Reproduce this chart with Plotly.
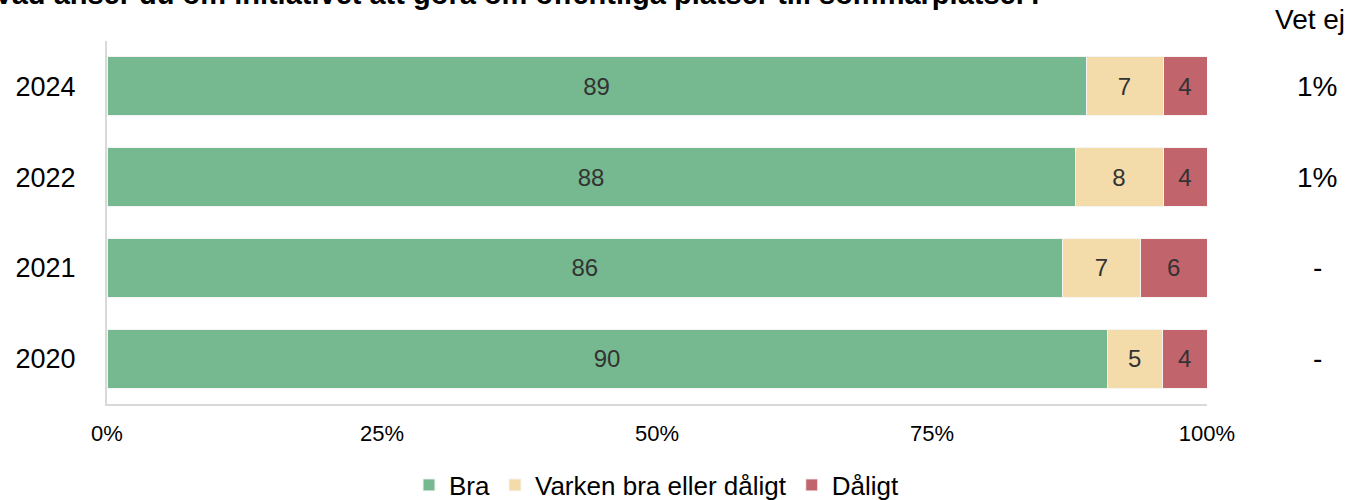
import plotly.graph_objects as go

# survey results, share of respondents
years = ['2024', '2022', '2021', '2020']
bra = [89, 88, 86, 90]
varken = [7, 8, 7, 5]
daligt = [4, 4, 6, 4]
vet_ej = ['1%', '1%', '-', '-']

series = [('Bra', bra, '#76B990'),
          ('Varken bra eller dåligt', varken, '#F3DCAA'),
          ('Dåligt', daligt, '#C2646C')]

FONT = 'Liberation Sans, Arial, sans-serif'

fig = go.Figure()

for name, vals, color in series:
    fig.add_trace(go.Bar(y=years,
                         x=vals,
                         name=name,
                         orientation='h',
                         text=vals,
                         textposition='inside',
                         insidetextanchor='middle',
                         textfont=dict(size=24, color='#333333', family=FONT),
                         marker=dict(color=color, line=dict(color='#F4F4F4', width=1)),
                         hoverinfo='skip'
                         )
                  )

# "Vet ej" column to the right of the bars
# (category axis: annotations use the category index)
fig.add_annotation(text='Vet ej', xref='paper', yref='paper',
                   x=1.0935, y=1.058, xanchor='center', yanchor='middle',
                   showarrow=False,
                   font=dict(size=28, color='#000000', family=FONT))
for i, v in enumerate(vet_ej):
    fig.add_annotation(text=v, xref='paper', yref='y',
                       x=1.1, y=i, xanchor='center', yanchor='middle',
                       showarrow=False,
                       font=dict(size=28, color='#000000', family=FONT))

# title, cut at the top edge as in the source image
fig.add_annotation(text='<b>Vad anser du om initiativet att göra om offentliga platser till sommarplatser?</b>',
                   xref='paper', yref='paper', x=-0.1045, y=1.129,
                   xanchor='left', yanchor='middle', showarrow=False,
                   font=dict(size=29, color='#000000', family=FONT))

fig.update_layout(barmode='stack',
                  barnorm='percent',
                  bargap=0.35,
                  width=1348, height=500,
                  margin=dict(l=107, r=141, t=41, b=96, autoexpand=False),
                  plot_bgcolor='white',
                  paper_bgcolor='white',
                  font=dict(family=FONT, color='#000000'),
                  xaxis=dict(range=[0, 100],
                             tickvals=[0, 25, 50, 75, 100],
                             ticktext=['0%', '25%', '50%', '75%', '100%'],
                             tickfont=dict(size=22),
                             showgrid=False, zeroline=False,
                             showline=True, linecolor='#D9D9D9', linewidth=2,
                             ticklabelstandoff=9, automargin=False),
                  yaxis=dict(type='category',
                             range=[3.5, -0.5],
                             tickfont=dict(size=27),
                             showgrid=False, zeroline=False,
                             showline=True, linecolor='#D9D9D9', linewidth=2,
                             ticklabelstandoff=24, automargin=False),
                  legend=dict(orientation='h', x=0.5, xanchor='center',
                              y=0.077, yref='container', yanchor='top',
                              font=dict(size=26),
                              traceorder='normal'),
                  showlegend=True
                  )

fig.write_html("out.html", post_script="document.body.style.margin='0';",
               config={'displayModeBar': False})
